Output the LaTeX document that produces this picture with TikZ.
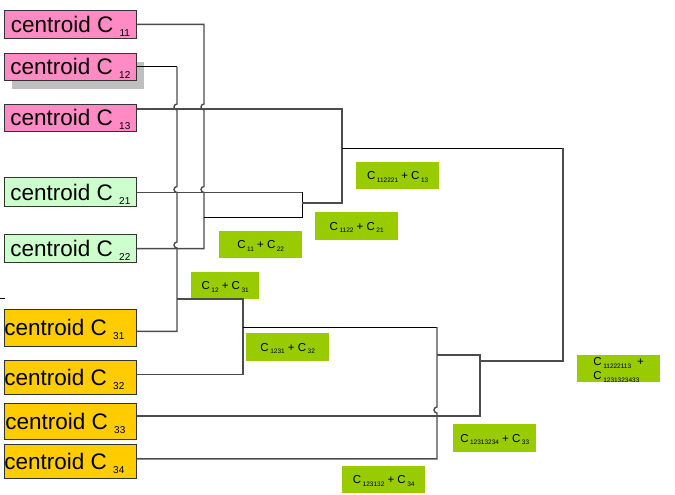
\documentclass[tikz,border=0pt]{standalone}
\usepackage{fontspec}
\setmainfont{Liberation Sans}
\usetikzlibrary{positioning,calc,shadows}

\definecolor{centpink}{HTML}{FF8AC4}
\definecolor{centmint}{HTML}{CCFFCC}
\definecolor{centgold}{HTML}{FFCC00}
\definecolor{mergegreen}{HTML}{99CC00}

\newcommand{\bigsub}[1]{\raisebox{-4pt}[0pt][0pt]{\fontsize{10}{10}\selectfont #1}}
\newcommand{\smallsub}[1]{\hspace{1.5pt}\raisebox{-2.8pt}[0pt][0pt]{\fontsize{6.5}{7}\selectfont #1}}

\begin{document}
\begin{tikzpicture}[
    x=1pt, y=-1pt,
    centroid/.style={rectangle, draw=black!80, line width=0.8pt, minimum width=132pt, inner sep=0pt, font=\fontsize{22.5}{24}\selectfont},
    merged/.style={rectangle, fill=mergegreen, anchor=north west, minimum width=83pt, minimum height=27pt, inner sep=0pt, font=\fontsize{11.5}{13.5}\selectfont},
    link/.style={draw=black!70, line width=1.4pt},
    thinlink/.style={draw=black, line width=0.8pt}
  ]
  \useasboundingbox (0,0) rectangle (675,495);

  % Centroids
  \node[centroid, fill=centpink, minimum height=28pt, anchor=north west] (c11) at (4,10) {centroid C \bigsub{11}};
  \node[centroid, fill=centpink, minimum height=27pt, below=14pt of c11,
        drop shadow={shadow xshift=8pt, shadow yshift=-9pt, fill=black!25, opacity=1}] (c12) {centroid C \bigsub{12}};
  \node[centroid, fill=centpink, minimum height=27pt, below=23pt of c12] (c13) {centroid C \bigsub{13}};
  \node[centroid, fill=centmint, minimum height=29pt, below=46pt of c13] (c21) {centroid C \bigsub{21}};
  \node[centroid, fill=centmint, minimum height=28pt, below=27pt of c21] (c22) {centroid C \bigsub{22}};
  \node[centroid, fill=centgold, minimum height=37pt, below=46pt of c22] (c31) {\hspace*{-12pt}centroid C \bigsub{31}};
  \node[centroid, fill=centgold, minimum height=34pt, below=13pt of c31] (c32) {\hspace*{-12pt}centroid C \bigsub{32}};
  \node[centroid, fill=centgold, minimum height=36pt, below=8pt of c32] (c33) {\hspace*{-10pt}centroid C \bigsub{33}};
  \node[centroid, fill=centgold, minimum height=34pt, below=5pt of c33] (c34) {\hspace*{-12pt}centroid C \bigsub{34}};

  % Ports where the lines leave the boxes
  \coordinate (c13port) at ($(c13.east)+(0,-8.5)$);
  \coordinate (c31port) at ($(c31.east)+(0,3.5)$);
  \coordinate (c32port) at ($(c32.east)+(0,-3)$);
  \coordinate (c33port) at ($(c33.east)+(0,-5)$);
  \coordinate (c34port) at ($(c34.east)+(0,-3)$);

  % Merge points
  \coordinate (j1) at (204,217);
  \coordinate (j2) at (302,203);
  \coordinate (j3) at (342,148);
  \coordinate (j4) at (177,299);
  \coordinate (j5) at (243,327);
  \coordinate (j6) at (437,355);
  \coordinate (j7) at (480,361);
  \coordinate (j8) at (563,361);
  \coordinate (stray) at (0,298);

  % Merge labels
  \node[merged] (m1122) at (219,231) {C\smallsub{11} + C\smallsub{22}};
  \node[merged, minimum width=68pt] (m1231) at (191,272) {C\smallsub{12} + C\smallsub{31}};
  \node[merged, minimum height=28pt] (m112221) at (315,212) {C\smallsub{1122} + C\smallsub{21}};
  \node[merged] (m11222113) at (356,162) {C\smallsub{112221} + C\smallsub{13}};
  \node[merged, minimum height=28pt] (m123132) at (246,333) {C\smallsub{1231} + C\smallsub{32}};
  \node[merged] (m12313234) at (342,466) {C\smallsub{123132} + C\smallsub{34}};
  \node[merged, minimum height=28pt] (m1231323433) at (453,424) {C\smallsub{12313234} + C\smallsub{33}};
  \node[merged, align=left] (mall) at (577,355) {C\smallsub{11222113}\hspace{6pt}+\\C\smallsub{1231323433}};

  % C11 + C22
  \draw[link] (c11.east) -- (c11.east -| j1) -- (204,104) arc[start angle=270, end angle=90, radius=3]
    -- (204,186.5) arc[start angle=270, end angle=90, radius=3] -- (c22.east -| j1) -- (c22.east);
  % + C21
  \draw[thinlink] (j1) -| (j2 |- c21.east);
  \draw[link] (c21.east) -- (j2 |- c21.east);
  % + C13
  \draw[link] (j2) -| (j3 |- c13port) -- (c13port);
  % C12 + C31
  \draw[thinlink] (c12.east) -- (c12.east -| j4);
  \draw[link] (c12.east -| j4) -- (177,104) arc[start angle=270, end angle=90, radius=3]
    -- (177,186.5) arc[start angle=270, end angle=90, radius=3]
    -- (177,242) arc[start angle=270, end angle=90, radius=3] -- (c31port -| j4) -- (c31port);
  % + C32
  \draw[link] (j4) -| (j5 |- c32port) -- (c32port);
  % + C34
  \draw[thinlink] (j5) -- (j5 -| j6);
  \draw[link] (j5 -| j6) -- (437,407) arc[start angle=270, end angle=90, radius=3] -- (c34port -| j6) -- (c34port);
  % + C33
  \draw[link] (j6) -| (j7 |- c33port) -- (c33port);
  % last merge
  \draw[thinlink] (j3) -- (j3 -| j8);
  \draw[link] (j3 -| j8) -- (j8) -- (j7);
  \draw[thinlink] (stray) -- ++(5,0);
\end{tikzpicture}
\end{document}
